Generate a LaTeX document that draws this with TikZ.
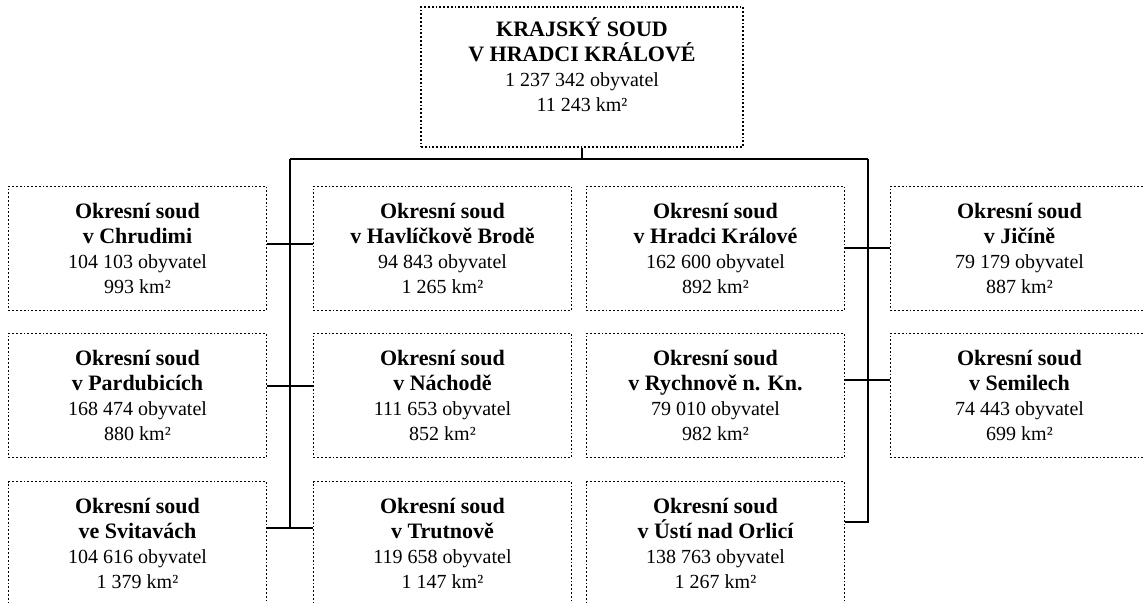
\documentclass[tikz,border=0pt]{standalone}
\usepackage{fontspec}
\setmainfont{Liberation Serif}
\newcommand{\nazev}[1]{{\fontsize{11}{12.5}\selectfont\bfseries #1}}

\begin{document}
\begin{tikzpicture}[x=0.5pt,y=-0.5pt,
  soud/.style={draw, densely dotted, line width=0.9pt, align=center, inner sep=0pt,
    minimum width=129pt, minimum height=62pt, font=\fontsize{10}{12.5}\selectfont},
  spoj/.style={line width=1pt}]
% define page size
\useasboundingbox (0,0) rectangle (1143,603);
\clip (0,0) rectangle (1143,603);

% regional court
\node[soud, minimum width=161pt, minimum height=70pt] (kraj) at (582,77)
  {\nazev{KRAJSKÝ SOUD}\\\nazev{V HRADCI KRÁLOVÉ}\\1 237 342 obyvatel\\11 243 km²\\\mbox{}};

% district courts, first row
\node[soud] (chrudim) at (137.5,248.5) {\nazev{Okresní soud}\\\nazev{v Chrudimi}\\104 103 obyvatel\\993 km²};
\node[soud] (havlbrod) at (442.5,248.5) {\nazev{Okresní soud}\\\nazev{v Havlíčkově Brodě}\\94 843 obyvatel\\1 265 km²};
\node[soud] (hradec) at (715.5,248.5) {\nazev{Okresní soud}\\\nazev{v Hradci Králové}\\162 600 obyvatel\\892 km²};
\node[soud] (jicin) at (1019.5,248.5) {\nazev{Okresní soud}\\\nazev{v Jičíně}\\79 179 obyvatel\\887 km²};

% second row
\node[soud] (pardubice) at (137.5,395.5) {\nazev{Okresní soud}\\\nazev{v Pardubicích}\\168 474 obyvatel\\880 km²};
\node[soud] (nachod) at (442.5,395.5) {\nazev{Okresní soud}\\\nazev{v Náchodě}\\111 653 obyvatel\\852 km²};
\node[soud] (rychnov) at (715.5,395.5) {\nazev{Okresní soud}\\\nazev{v Rychnově n. Kn.}\\79 010 obyvatel\\982 km²};
\node[soud] (semily) at (1019.5,395.5) {\nazev{Okresní soud}\\\nazev{v Semilech}\\74 443 obyvatel\\699 km²};

% third row
\node[soud] (svitavy) at (137.5,543.5) {\nazev{Okresní soud}\\\nazev{ve Svitavách}\\104 616 obyvatel\\1 379 km²};
\node[soud] (trutnov) at (442.5,543.5) {\nazev{Okresní soud}\\\nazev{v Trutnově}\\119 658 obyvatel\\1 147 km²};
\node[soud] (usti) at (715.5,543.5) {\nazev{Okresní soud}\\\nazev{v Ústí nad Orlicí}\\138 763 obyvatel\\1 267 km²};

% main bus
\coordinate (busL) at (290,159);
\coordinate (busR) at (868,159);
\draw[spoj] (kraj.south) -- (kraj.south |- busL);
\draw[spoj] (busL) -- (busR);

% left branch
\coordinate (tCh) at ([yshift=2.25pt]chrudim.east);
\coordinate (tPa) at ([yshift=4.75pt]pardubice.east);
\coordinate (tSv) at ([yshift=7.75pt]svitavy.east);
\draw[spoj] (busL) -- (busL |- tSv);
\draw[spoj] (tCh) -- (havlbrod.west |- tCh);
\draw[spoj] (tPa) -- (nachod.west |- tPa);
\draw[spoj] (tSv) -- (trutnov.west |- tSv);

% right branch
\coordinate (tRy) at ([yshift=7.75pt]rychnov.east);
\coordinate (tUs) at ([yshift=10.75pt]usti.east);
\draw[spoj] (busR) -- (busR |- tUs) -- (tUs);
\draw[spoj] (hradec.east) -- (jicin.west);
\draw[spoj] (tRy) -- (semily.west |- tRy);

\end{tikzpicture}
\end{document}
